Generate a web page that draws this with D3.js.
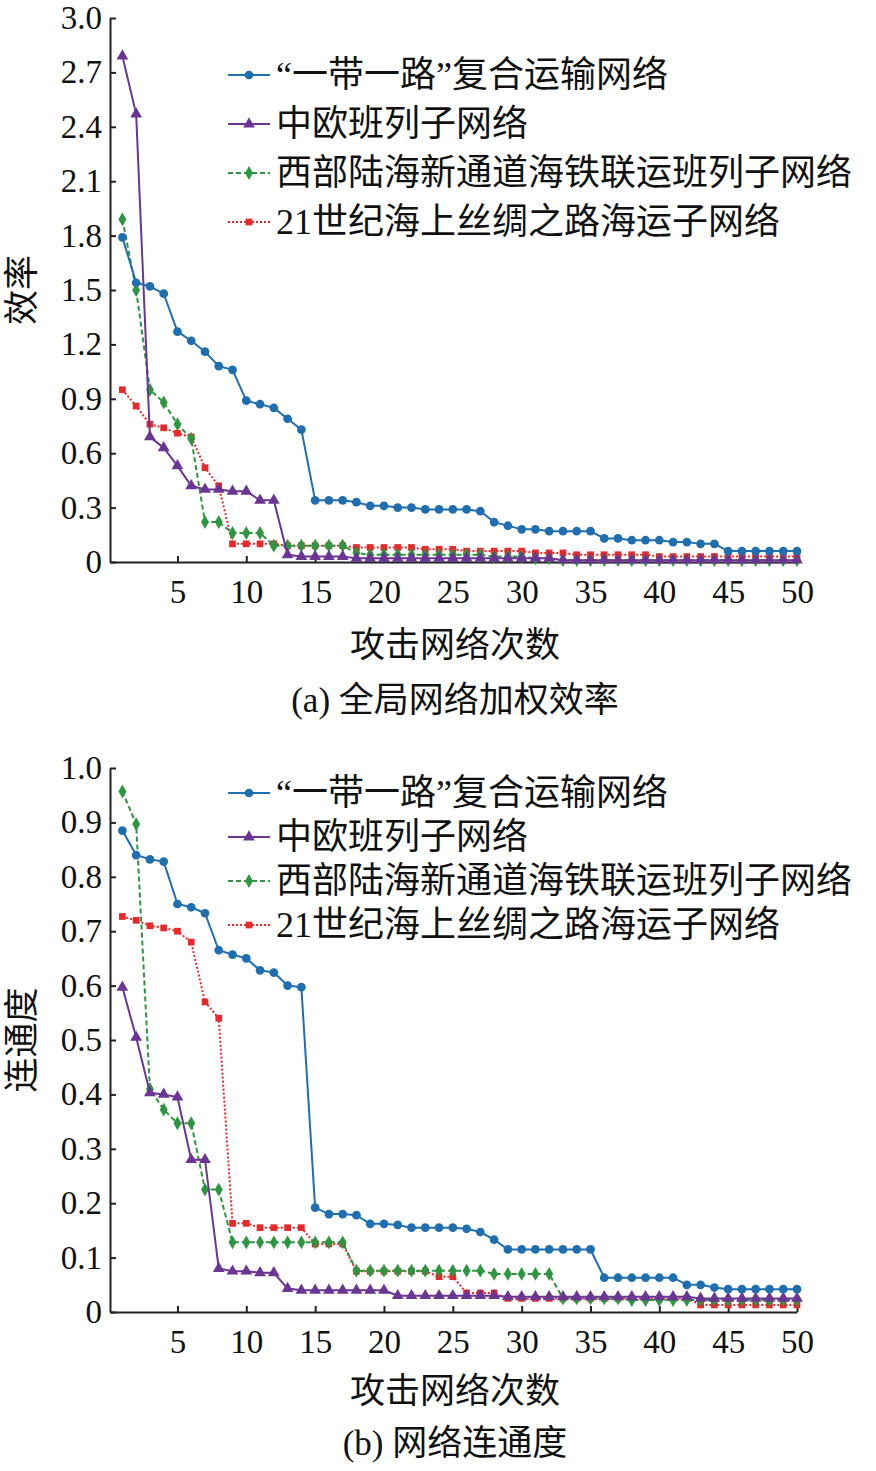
<!DOCTYPE html>
<html><head><meta charset="utf-8">
<script src="https://cdn.jsdelivr.net/npm/d3@7"></script>
<style>body{margin:0;background:#fff}text{font-family:"Liberation Serif","Noto Sans CJK SC",serif;fill:#111}</style>
</head><body><svg id="c" width="876" height="1471"></svg>
<script>
// series names
var names = ['“一带一路”复合运输网络', '中欧班列子网络', '西部陆海新通道海铁联运班列子网络', '21世纪海上丝绸之路海运子网络'];
var xTicks = [5, 10, 15, 20, 25, 30, 35, 40, 45, 50];

// (a) efficiency
var effBlue = [1.79,1.54,1.52,1.48,1.27,1.22,1.16,1.08,1.06,0.89,0.87,0.85,0.79,0.73,0.34,0.34,0.34,0.33,0.31,0.31,0.30,0.30,0.29,0.29,0.29,0.29,0.28,0.22,0.20,0.18,0.18,0.17,0.17,0.17,0.17,0.13,0.13,0.12,0.12,0.12,0.11,0.11,0.10,0.10,0.06,0.06,0.06,0.06,0.06,0.06];
var effPurple = [2.79,2.47,0.69,0.63,0.53,0.42,0.40,0.40,0.39,0.39,0.34,0.34,0.04,0.03,0.03,0.03,0.03,0.02,0.02,0.02,0.02,0.02,0.02,0.02,0.02,0.02,0.02,0.02,0.02,0.02,0.02,0.02,0.01,0.01,0.01,0.01,0.01,0.01,0.01,0.01,0.01,0.01,0.01,0.01,0.01,0.01,0.01,0.01,0.01,0.01];
var effGreen = [1.89,1.50,0.95,0.88,0.76,0.68,0.22,0.22,0.16,0.16,0.16,0.09,0.09,0.09,0.09,0.09,0.09,0.05,0.04,0.04,0.04,0.04,0.04,0.04,0.04,0.04,0.04,0.03,0.03,0.03,0.02,0.02,0.01,0.01,0.01,0.01,0.01,0.01,0.01,0.01,0.01,0.01,0.01,0.01,0.01,0.01,0.01,0.01,0.01,0.01];
var effRed = [0.95,0.86,0.76,0.74,0.71,0.69,0.52,0.42,0.10,0.10,0.10,0.10,0.09,0.09,0.09,0.09,0.09,0.08,0.08,0.08,0.08,0.08,0.07,0.07,0.07,0.06,0.06,0.06,0.06,0.06,0.05,0.05,0.05,0.04,0.04,0.04,0.04,0.04,0.04,0.03,0.03,0.03,0.03,0.03,0.03,0.03,0.03,0.03,0.03,0.03];

// (b) connectivity
var conBlue = [0.885,0.84,0.832,0.828,0.75,0.744,0.733,0.665,0.657,0.65,0.628,0.624,0.60,0.597,0.192,0.18,0.18,0.178,0.162,0.162,0.16,0.155,0.155,0.155,0.155,0.153,0.147,0.133,0.115,0.115,0.115,0.115,0.115,0.115,0.115,0.063,0.063,0.063,0.063,0.063,0.063,0.05,0.05,0.045,0.042,0.042,0.042,0.042,0.042,0.042];
var conPurple = [0.597,0.505,0.403,0.40,0.395,0.28,0.28,0.08,0.075,0.075,0.072,0.072,0.043,0.04,0.04,0.04,0.04,0.04,0.04,0.04,0.03,0.03,0.03,0.03,0.03,0.03,0.03,0.03,0.028,0.028,0.028,0.028,0.028,0.028,0.028,0.028,0.028,0.028,0.028,0.028,0.028,0.028,0.025,0.025,0.025,0.025,0.025,0.025,0.025,0.025];
var conGreen = [0.957,0.897,0.41,0.372,0.347,0.347,0.225,0.225,0.128,0.128,0.128,0.128,0.128,0.128,0.128,0.128,0.128,0.076,0.076,0.076,0.076,0.076,0.076,0.076,0.076,0.076,0.076,0.07,0.07,0.07,0.07,0.07,0.025,0.025,0.025,0.025,0.025,0.022,0.022,0.022,0.022,0.022,0.022,0.022,0.022,0.022,0.022,0.022,0.022,0.022];
var conRed = [0.727,0.72,0.71,0.706,0.70,0.68,0.57,0.54,0.163,0.163,0.155,0.155,0.155,0.155,0.125,0.125,0.125,0.075,0.075,0.075,0.075,0.075,0.075,0.065,0.065,0.035,0.035,0.035,0.025,0.025,0.025,0.025,0.025,0.025,0.025,0.025,0.025,0.025,0.025,0.025,0.025,0.025,0.013,0.013,0.013,0.013,0.013,0.013,0.013,0.013];

var styles = [
	{ color: '#1f6eb0', dash: null, shape: d3.symbolCircle, size: 60 },
	{ color: '#6a3593', dash: null, shape: d3.symbolTriangle, size: 60 },
	{ color: '#2e9640', dash: '5,3', shape: d3.symbolDiamond, size: 55 },
	{ color: '#e8282a', dash: '2,2', shape: d3.symbolSquare, size: 45 }
];

var svg = d3.select('#c');

function panel(top, bottom, ymax, yticks, legTop, legStep, labGap, ylabel, title, series) {
	var x = d3.scaleLinear().domain([0.1, 50]).range([110, 797]);
	var y = d3.scaleLinear().domain([0, ymax]).range([bottom, top]);
	var fmt = function(d) { return d == 0 ? '0' : d.toFixed(1); };
	var g = svg.append('g');
	g.append('g').attr('transform', 'translate(0,' + bottom + ')')
		.call(d3.axisBottom(x).tickValues(xTicks).tickSize(-6).tickSizeOuter(0).tickPadding(18))
		.call(function(a) { a.selectAll('text').style('font-size', '33px'); a.selectAll('path,line').attr('stroke-width', 2).attr('stroke', '#222'); });
	g.append('g').attr('transform', 'translate(110,0)')
		.call(d3.axisLeft(y).tickValues(yticks).tickFormat(fmt).tickSize(-6).tickSizeOuter(0).tickPadding(8))
		.call(function(a) { a.selectAll('text').style('font-size', '33px'); a.selectAll('path,line').attr('stroke-width', 2).attr('stroke', '#222'); });
	g.append('text').attr('transform', 'translate(34,' + ((top + bottom) / 2) + ') rotate(-90)')
		.attr('text-anchor', 'middle').style('font-size', '35px').text(ylabel);
	g.append('text').attr('x', 455).attr('y', bottom + labGap[0]).attr('text-anchor', 'middle').style('font-size', '35px').text('攻击网络次数');
	g.append('text').attr('x', 455).attr('y', bottom + labGap[1]).attr('text-anchor', 'middle').style('font-size', '35px').text(title);
	var line = d3.line().x(function(d, i) { return x(i + 1); }).y(function(d) { return y(d); });
	[3, 2, 1, 0].forEach(function(k) {
		var s = styles[k];
		g.append('path').datum(series[k]).attr('d', line).attr('fill', 'none')
			.attr('stroke', s.color).attr('stroke-width', 2).attr('stroke-dasharray', s.dash);
		g.selectAll(null).data(series[k]).enter().append('path')
			.attr('d', d3.symbol().type(s.shape).size(s.size))
			.attr('transform', function(d, i) { return 'translate(' + x(i + 1) + ',' + y(d) + ')'; })
			.attr('fill', s.color);
	});
	// legend
	names.forEach(function(n, k) {
		var s = styles[k], ly = top + legTop + k * legStep;
		g.append('line').attr('x1', 228).attr('x2', 270).attr('y1', ly).attr('y2', ly)
			.attr('stroke', s.color).attr('stroke-width', 2).attr('stroke-dasharray', s.dash);
		g.append('path').attr('d', d3.symbol().type(s.shape).size(s.size)).attr('transform', 'translate(249,' + ly + ')').attr('fill', s.color);
		g.append('text').attr('x', 276).attr('y', ly + 12).attr('textLength', k == 1 ? null : null).style('font-size', '36px').text(n);
	});
}

panel(18, 562, 3.0, [0, 0.3, 0.6, 0.9, 1.2, 1.5, 1.8, 2.1, 2.4, 2.7, 3.0], 57, 49, [95, 150],
	'效率', '(a) 全局网络加权效率', [effBlue, effPurple, effGreen, effRed]);
panel(768, 1312, 1.0, d3.range(0, 11).map(function(v) { return v / 10; }), 25, 44, [91, 143],
	'连通度', '(b) 网络连通度', [conBlue, conPurple, conGreen, conRed]);
</script></body></html>
